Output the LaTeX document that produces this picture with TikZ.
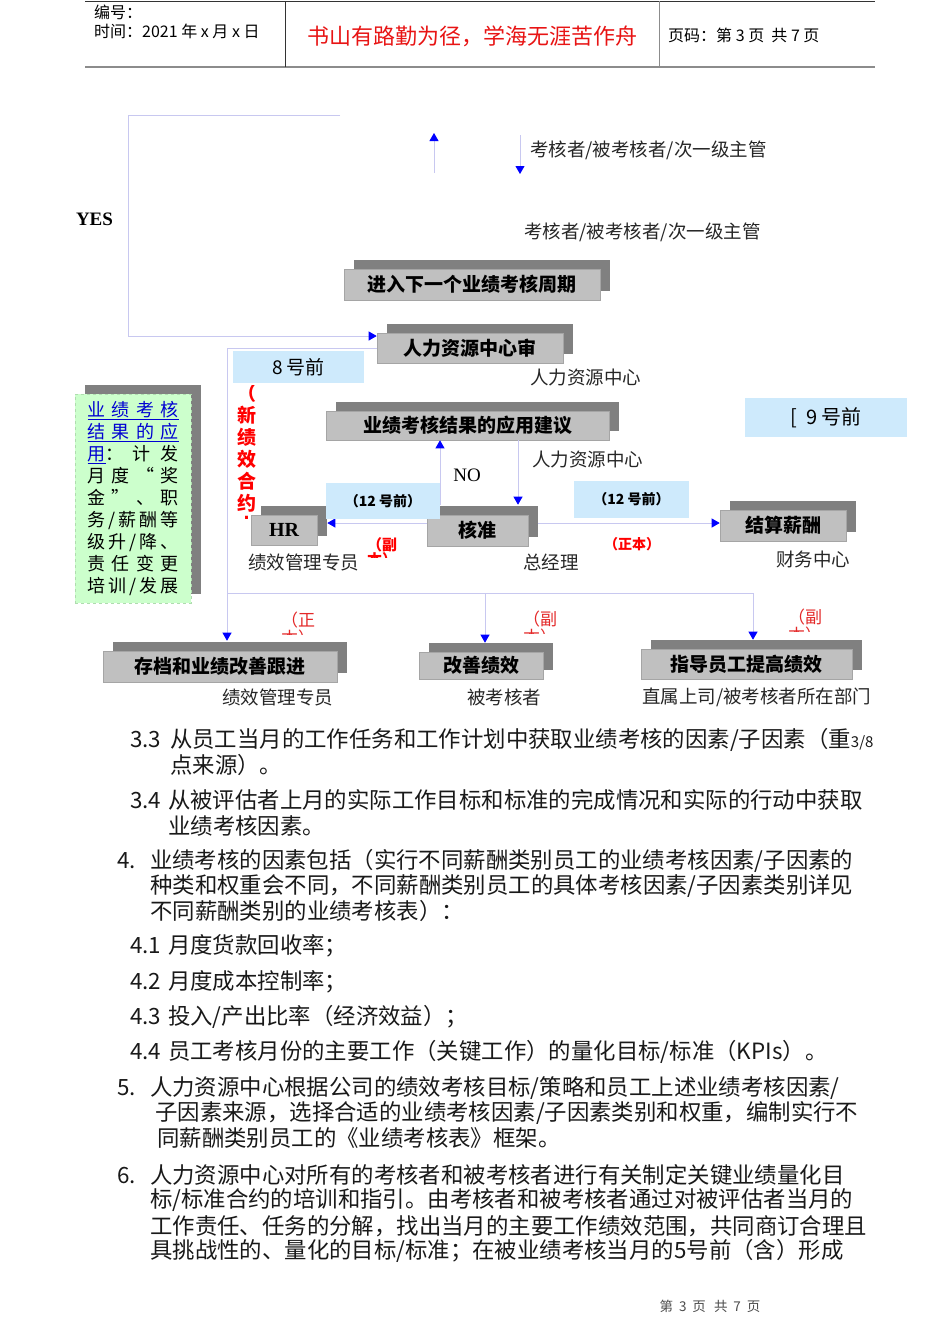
\documentclass[tikz,border=0pt]{standalone}
\usepackage{fontspec}
\setmainfont{Noto Sans CJK SC}
\newfontfamily\lserif{Liberation Serif}
\usetikzlibrary{arrows.meta, shadows, positioning}

\definecolor{linkline}{RGB}{200,200,240}
\definecolor{tipblue}{RGB}{0,0,255}
\definecolor{boxfill}{RGB}{192,192,192}
\definecolor{boxedge}{RGB}{165,165,165}
\definecolor{boxshade}{RGB}{128,128,128}
\definecolor{datefill}{RGB}{206,234,252}
\definecolor{notefill}{RGB}{204,255,204}
\definecolor{noteedge}{RGB}{175,220,175}
\definecolor{notelink}{RGB}{0,0,210}
\definecolor{titlered}{RGB}{232,20,20}
\definecolor{tagred}{RGB}{228,40,40}

\tikzset{
  flow/.style={draw=linkline, line width=0.8pt, -{Triangle[width=9pt,length=8pt,color=tipblue]}},
  link/.style={draw=linkline, line width=0.8pt},
  stepbox/.style={draw=boxedge, fill=boxfill, inner sep=0pt, line width=0.6pt,
    font=\bfseries\fontsize{19}{19}\selectfont,
    drop shadow={shadow xshift=9.5pt, shadow yshift=9.5pt, fill=boxshade, opacity=1}},
  datebox/.style={fill=datefill, inner sep=0pt},
  role/.style={inner sep=0pt, text=black!85, font=\fontsize{18.5}{18.5}\selectfont},
  redtag/.style={inner sep=0pt, text=red, align=center, font=\bfseries\fontsize{14}{17}\selectfont},
  cuttag/.style={inner sep=0pt, text=tagred, align=center, font=\fontsize{17}{16}\selectfont},
  body/.style={anchor=west, inner sep=0pt, text=black!90, font=\fontsize{22.4}{22.4}\selectfont},
}
\newcommand{\spreadline}[1]{\makebox[91pt]{#1}}
\newcommand{\itemno}[2]{\makebox[#1][l]{#2}}

\begin{document}
\begin{tikzpicture}[x=1pt, y=-1pt]
  \fill[white] (0,0) rectangle (950,1344);
  \useasboundingbox (0,0) rectangle (950,1344);

  % Header
  \draw[black!80] (85,1) -- (875,1);
  \draw[black!45, line width=2pt] (85,67) -- (875,67);
  \draw[black!80] (285,1) -- (285,67);
  \draw[black!45] (659,1) -- (659,67);
  \node[anchor=west, inner sep=0pt, font=\fontsize{16}{16}\selectfont] (docno) at (94,12) {编号：};
  \node[anchor=west, inner sep=0pt, font=\fontsize{16}{16}\selectfont] (docdate) at (94,31) {时间：2021 年 x 月 x 日};
  \node[inner sep=0pt, text=titlered, font=\fontsize{22}{22}\selectfont] (motto) at (472,36) {书山有路勤为径，学海无涯苦作舟};
  \node[anchor=west, inner sep=0pt, font=\fontsize{16}{16}\selectfont] (pageno) at (668,35) {页码：第 3 页 \ 共 7 页};

  % Process boxes
  \node[stepbox, minimum width=256pt, minimum height=31pt] (nextcycle) at (472,284.5) {进入下一个业绩考核周期};
  \node[stepbox, minimum width=186pt, minimum height=30pt] (hrreview) at (470,348) {人力资源中心审};
  \node[stepbox, minimum width=283pt, minimum height=29pt] (advice) at (467.5,425.5) {业绩考核结果的应用建议};
  \node[stepbox, minimum width=66pt, minimum height=30pt, font=\lserif\bfseries\fontsize{20}{20}\selectfont] (hr) at (284,530) {HR};
  \node[stepbox, minimum width=101pt, minimum height=31pt] (approve) at (477.5,530.5) {核准};
  \node[stepbox, minimum width=126pt, minimum height=31pt] (payroll) at (783,525.5) {结算薪酬};
  \node[stepbox, minimum width=234pt, minimum height=31pt] (archive) at (220,666.5) {存档和业绩改善跟进};
  \node[stepbox, minimum width=124pt, minimum height=27pt] (improve) at (481,665.5) {改善绩效};
  \node[stepbox, minimum width=211pt, minimum height=30pt] (coach) at (746.5,664) {指导员工提高绩效};

  % Note box
  \node[fill=notefill, draw=noteedge, dashed, minimum width=116pt, minimum height=209pt, inner sep=0pt,
    drop shadow={shadow xshift=10pt, shadow yshift=9pt, fill=boxshade, opacity=1},
    align=left, font=\fontsize{18}{22}\selectfont] (note) at (133,498.5) {%
    \color{notelink}\underline{\spreadline{业\hfill 绩\hfill 考\hfill 核}}\\
    \color{notelink}\underline{\spreadline{结\hfill 果\hfill 的\hfill 应}}\\
    \spreadline{{\color{notelink}\underline{用}}\color{black}：\hfill 计\hfill 发}\\
    \color{black}\spreadline{月\hfill 度\hfill “\hfill 奖}\\
    \spreadline{金\hfill ”\hfill 、\hfill 职}\\
    \spreadline{务\hfill /\hfill 薪\hfill 酬\hfill 等}\\
    \spreadline{级\hfill 升\hfill /\hfill 降\hfill 、}\\
    \spreadline{责\hfill 任\hfill 变\hfill 更}\\
    \spreadline{培\hfill 训\hfill /\hfill 发\hfill 展}};

  % Connectors
  \coordinate (yesend) at (340,115);
  \coordinate (upfoot) at (434,173);
  \coordinate (uphead) at (434,133);
  \coordinate (downtop) at (520,135);
  \coordinate (downfoot) at (520,174);
  \coordinate (split) at (227,593);
  \draw[flow] (yesend) -- (128,115) |- ([yshift=12pt]hrreview.west);
  \draw[flow] (upfoot) -- (uphead);
  \draw[flow] (downtop) -- (downfoot);
  \draw[link] (hrreview.west) -| (split);
  \draw[flow] (split) -- ([xshift=7pt,yshift=10pt]archive.north);
  \draw[flow] (split) -| ([xshift=4pt,yshift=9pt]improve.north);
  \draw[flow] (split) -| ([xshift=6.5pt,yshift=9pt]coach.north);
  \draw[flow] ([xshift=-37.5pt,yshift=10pt]approve.north) -- ([xshift=-27.5pt]advice.south);
  \draw[flow] ([xshift=50.5pt]advice.south) -- ([xshift=40.5pt,yshift=10pt]approve.north);
  \draw[flow] ([yshift=7.5pt]approve.west) -- ([xshift=10pt,yshift=7pt]hr.east);
  \draw[flow] ([xshift=10pt,yshift=7.5pt]approve.east) -- ([yshift=2.5pt]payroll.west);

  % Dates
  \node[datebox, minimum width=131pt, minimum height=32pt, font=\fontsize{19}{19}\selectfont] (date8) at (298.5,367) {8 号前};
  \node[datebox, minimum width=114pt, minimum height=36pt, font=\bfseries\fontsize{14}{14}\selectfont] (date12a) at (383,501) {（12 号前）};
  \node[datebox, minimum width=115pt, minimum height=37pt, font=\bfseries\fontsize{14}{14}\selectfont] (date12b) at (631.5,499.5) {（12 号前）};
  \node[datebox, minimum width=162pt, minimum height=39pt, font=\fontsize{20}{20}\selectfont] (date9) at (826,417.5) {[\ \ 9 号前};

  % Roles
  \node[role, anchor=west] (who1) at (530,150) {考核者/被考核者/次一级主管};
  \node[role, anchor=west] (who2) at (524,232) {考核者/被考核者/次一级主管};
  \node[role, anchor=west] (who3) at (530,378) {人力资源中心};
  \node[role, anchor=west] (who4) at (532,460) {人力资源中心};
  \node[role, anchor=west] (who5) at (248,562) {绩效管理专员};
  \node[role, anchor=west] (who6) at (523,562) {总经理};
  \node[role, anchor=west] (who7) at (776,559) {财务中心};
  \node[role, anchor=west] (who8) at (222,697) {绩效管理专员};
  \node[role, anchor=west] (who9) at (467,697) {被考核者};
  \node[role, anchor=west] (who10) at (642,697) {直属上司/被考核者所在部门};
  \node[inner sep=0pt, font=\lserif\bfseries\fontsize{19}{19}\selectfont] (yes) at (94.5,219) {YES};
  \node[inner sep=0pt, font=\lserif\fontsize{19}{19}\selectfont] (no) at (467,475) {NO};

  % Copy tags
  \node[redtag] (tagmain) at (632,544) {（正本）};
  \begin{scope}
    \clip (230,385) rectangle (265,518);
    \node[redtag, font=\bfseries\fontsize{19}{22}\selectfont] (tagnew) at (247,459) {（\\新\\绩\\效\\合\\约\\本};
  \end{scope}
  \begin{scope}
    \clip (360,530) rectangle (400,557);
    \node[redtag, font=\bfseries\fontsize{15}{15}\selectfont] (tagcopy1) at (382,552.5) {（副\\本）};
  \end{scope}
  \begin{scope}
    \clip (275,605) rectangle (320,634);
    \node[cuttag] (tagcopy2) at (298,629) {（正\\本）};
  \end{scope}
  \begin{scope}
    \clip (520,605) rectangle (565,633);
    \node[cuttag] (tagcopy3) at (540,628) {（副\\本）};
  \end{scope}
  \begin{scope}
    \clip (785,602) rectangle (830,631);
    \node[cuttag] (tagcopy4) at (805,626) {（副\\本）};
  \end{scope}

  % Body text
  \node[body] (t1) at (130,740) {\itemno{40pt}{3.3}从员工当月的工作任务和工作计划中获取业绩考核的因素/子因素（重{\fontsize{15}{15}\selectfont 3/8}};
  \node[body] (t2) at (170,765) {点来源）。};
  \node[body] (t3) at (130,800) {\itemno{38pt}{3.4}从被评估者上月的实际工作目标和标准的完成情况和实际的行动中获取};
  \node[body] (t4) at (168,826) {业绩考核因素。};
  \node[body] (t5) at (117,861) {\itemno{33pt}{4.}业绩考核的因素包括（实行不同薪酬类别员工的业绩考核因素/子因素的};
  \node[body] (t6) at (150,886) {种类和权重会不同，不同薪酬类别员工的具体考核因素/子因素类别详见};
  \node[body] (t7) at (150,911) {不同薪酬类别的业绩考核表）：};
  \node[body] (t8) at (130,946) {\itemno{38pt}{4.1}月度货款回收率；};
  \node[body] (t9) at (130,982) {\itemno{38pt}{4.2}月度成本控制率；};
  \node[body] (t10) at (130,1017) {\itemno{38pt}{4.3}投入/产出比率（经济效益）；};
  \node[body] (t11) at (130,1052) {\itemno{38pt}{4.4}员工考核月份的主要工作（关键工作）的量化目标/标准（KPIs）。};
  \node[body] (t12) at (117,1088) {\itemno{33pt}{5.}人力资源中心根据公司的绩效考核目标/策略和员工上述业绩考核因素/};
  \node[body] (t13) at (155,1113) {子因素来源，选择合适的业绩考核因素/子因素类别和权重，编制实行不};
  \node[body] (t14) at (157,1138) {同薪酬类别员工的《业绩考核表》框架。};
  \node[body] (t15) at (117,1175) {\itemno{33pt}{6.}人力资源中心对所有的考核者和被考核者进行有关制定关键业绩量化目};
  \node[body] (t16) at (150,1200) {标/标准合约的培训和指引。由考核者和被考核者通过对被评估者当月的};
  \node[body] (t17) at (150,1226) {工作责任、任务的分解，找出当月的主要工作绩效范围，共同商订合理且};
  \node[body] (t18) at (150,1251) {具挑战性的、量化的目标/标准；在被业绩考核当月的5号前（含）形成};

  % Footer
  \node[inner sep=0pt, text=black!70, font=\fontsize{13.5}{13.5}\selectfont] (footer) at (710,1306) {第\hspace{6pt}3\hspace{6pt}页\hspace{8pt}共\hspace{6pt}7\hspace{6pt}页};
\end{tikzpicture}
\end{document}
